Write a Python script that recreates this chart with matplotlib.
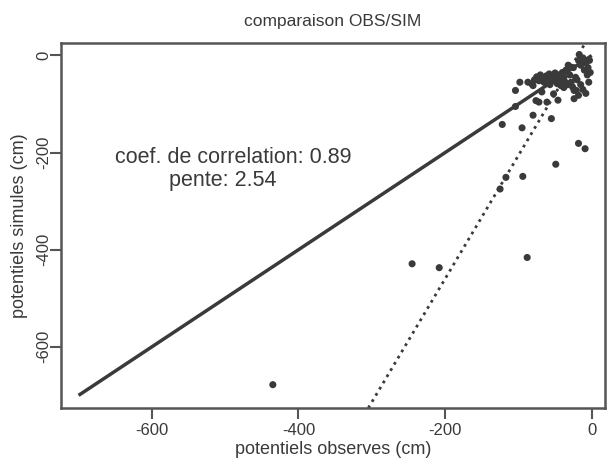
import matplotlib
matplotlib.use("Agg")
import matplotlib.pyplot as plt

# potentiels observes / simules (cm)
obs = [
    -435, -245, -208, -88, -49, -94, -117, -125, -18, -9,
    -122, -95, -80, -55, -76, -104, -104, -98, -87, -52,
    -46, -68, -24, -18, -61, -72, -24, -21,
    -82, -78, -75, -72, -70, -68, -65, -62, -60, -58,
    -55, -52, -50, -48, -45, -43, -40, -38, -36, -80,
    -35, -32, -30, -28, -26, -25, -22, -33, -38,
    -18, -15, -12, -10, -8, -6, -5, -4, -15, -12,
    -20, -8, -3, -9, -2, -17, -57, -47, -42,
]
sim = [
    -678, -429, -437, -416, -224, -249, -251, -275, -181, -192,
    -142, -149, -123, -130, -93, -105, -72, -55, -55, -79,
    -92, -75, -72, -82, -96, -96, -89, -72,
    -58, -50, -44, -52, -40, -47, -55, -42, -48, -38,
    -45, -52, -36, -44, -40, -50, -35, -45, -55, -62,
    -30, -20, -40, -55, -65, -25, -45, -60, -66,
    -10, -20, -5, -30, -15, -40, -25, -55, -60, -70,
    -50, -78, -10, -14, -35, 2, -60, -58, -62,
]

coef_corr = 0.89
pente = 2.54
ordonnee = 48

ink = "#3a3a3a"
plt.rcParams["font.family"] = ["Liberation Sans", "DejaVu Sans"]
plt.rcParams["axes.unicode_minus"] = False

fig = plt.figure(figsize=(6.07, 4.61), dpi=100)
ax = fig.add_axes([0.1005, 0.115, 0.896, 0.792])

# droite 1:1
ax.plot([-700, 0], [-700, 0], color=ink, lw=2.5, solid_capstyle="butt", zorder=2)
# droite de regression
ax.axline((0, ordonnee), slope=pente, color=ink, lw=2.0, ls=(0, (1, 1.6)), zorder=2)
ax.scatter(obs, sim, s=26, color=ink, edgecolors="none", zorder=3)

ax.text(-489, -210, f"coef. de correlation: {coef_corr}", ha="center", va="center",
        fontsize=15.5, color=ink)
ax.text(-504, -257, f"pente: {pente}", ha="center", va="center",
        fontsize=15.5, color=ink)

ax.set_xlim(-724, 18)
ax.set_ylim(-726, 26)
ax.set_xticks([-600, -400, -200, 0])
ax.set_yticks([-600, -400, -200, 0])
ax.tick_params(axis="both", direction="out", length=8, width=1.5, color="#555555",
               labelsize=12, labelcolor=ink, pad=3)
ax.tick_params(axis="y", labelrotation=90, pad=-1)
for lab in ax.get_yticklabels():
    lab.set_va("center")
for sp in ax.spines.values():
    sp.set_linewidth(1.8)
    sp.set_color("#555555")

ax.set_title("comparaison OBS/SIM", fontsize=12.5, color=ink, pad=12)
ax.set_xlabel("potentiels observes (cm)", fontsize=13, color=ink, labelpad=2)
ax.set_ylabel("potentiels simules (cm)", fontsize=13, color=ink, labelpad=6)

fig.savefig("out.png", dpi=100, facecolor="white")
